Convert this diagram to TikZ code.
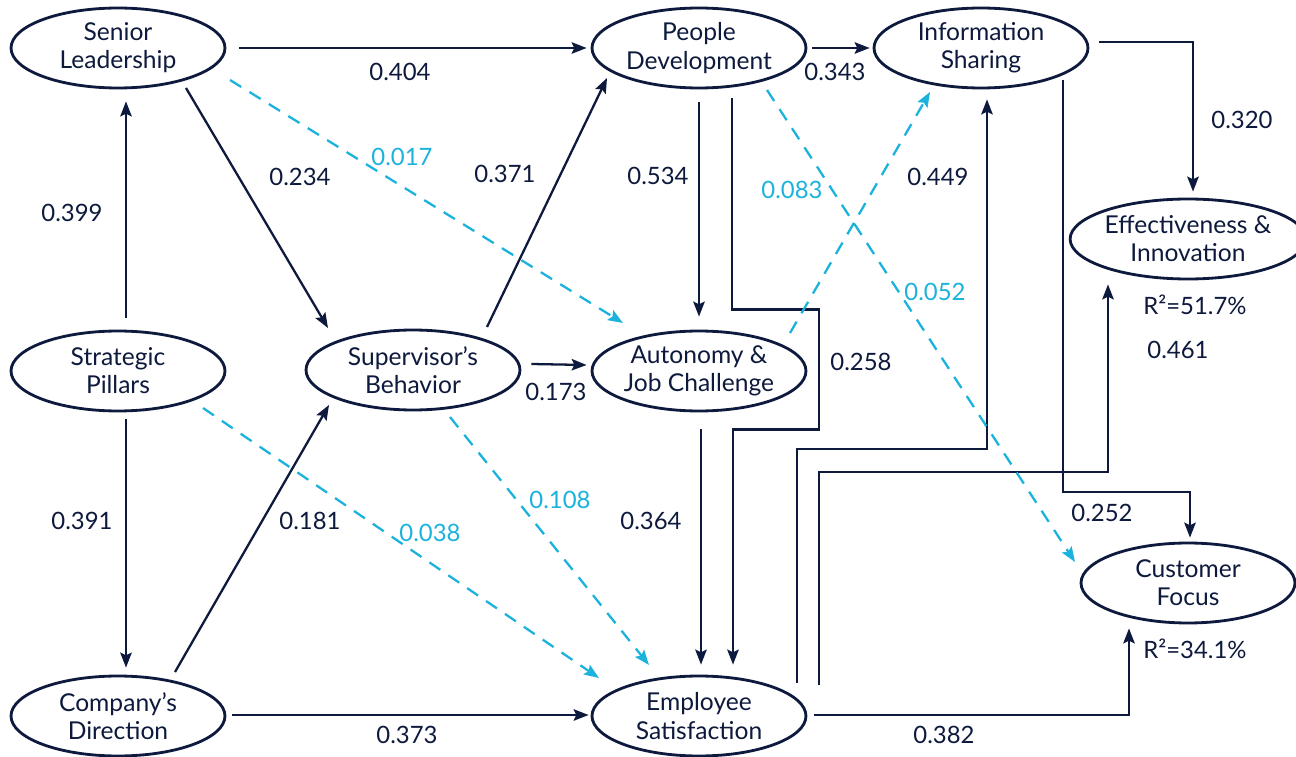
\documentclass[tikz,border=0pt]{standalone}
\usepackage{fontspec}
\setmainfont{Lato}
\usetikzlibrary{arrows.meta,calc,shapes.geometric}
\definecolor{navy}{HTML}{0E1A3D}
\definecolor{cyanl}{HTML}{1BB3DC}
\tikzset{
  construct/.style={ellipse,draw=navy,line width=1.6pt,minimum width=4.28cm,minimum height=1.6cm,inner sep=0pt,align=center,text=navy,font=\fontsize{14}{16}\selectfont},
  solidpath/.style={draw=navy,line width=1.3pt,-{Stealth[length=8.5pt,width=6.5pt,inset=1.5pt]}},
  weakpath/.style={draw=cyanl,line width=1.3pt,dash pattern=on 7.5pt off 5.5pt,-{Stealth[length=8.5pt,width=6.5pt,inset=1.5pt]}},
  coef/.style={text=navy,font=\fontsize{13.6}{16}\selectfont,inner sep=0pt},
  coefw/.style={text=cyanl,font=\fontsize{13.6}{16}\selectfont,inner sep=0pt}
}
\begin{document}
\begin{tikzpicture}[x=0.02cm,y=-0.02cm]
\useasboundingbox[fill=white] (0,0) rectangle (1296,757);
% constructs
\node[construct] (sl) at (118,48) {Senior\\Leadership};
\node[construct] (pd) at (699,48) {People\\Development};
\node[construct] (is) at (981,48) {Information\\Sharing};
\node[construct] (ei) at (1188,239) {Effectiveness \&\\Innovation};
\node[construct] (sp) at (118,371) {Strategic\\Pillars};
\node[construct] (sb) at (413,370) {Supervisor’s\\Behavior};
\node[construct] (aj) at (699,371) {Autonomy \&\\Job Challenge};
\node[construct] (cd) at (118,716) {Company’s\\Direction};
\node[construct] (es) at (699,716) {Employee\\Satisfaction};
\node[construct] (cf) at (1188,583) {Customer\\Focus};
% solid paths
\draw[solidpath] ($(sl.east)+(13,0)$) -- ($(pd.west)+(-4,0)$);
\draw[solidpath] ($(pd.east)+(5,0)$) -- ($(is.west)+(-3,0)$);
\draw[solidpath] ($(is.east)+(10,-6)$) -| ($(ei.north)+(5,-6)$);
\draw[solidpath] ($(sp.north)+(8,-12)$) -- ($(sl.south)+(8,12)$);
\draw[solidpath] ($(sp.south)+(8,7)$) -- ($(cd.north)+(8,-7)$);
\draw[solidpath] ($(sl.center)+(68,40)$) -- ($(sb.center)+(-85,-42)$);
\draw[solidpath] ($(sb.center)+(74,-43)$) -- ($(pd.center)+(-92,30)$);
\draw[solidpath] ($(sb.east)+(10,-6)$) -- ($(aj.west)+(-4,-6)$);
\draw[solidpath] ($(cd.center)+(57,-44)$) -- ($(sb.center)+(-84,35)$);
\draw[solidpath] ($(cd.east)+(6,-1)$) -- ($(es.west)+(-2,-1)$);
\draw[solidpath] ($(pd.south)+(0,13)$) -- ($(aj.north)+(0,-13)$);
\draw[solidpath] ($(pd.south)+(33,9)$) -- ++(0,211) -- ++(87,0) -- ++(0,120) -- ++(-86,0) -- ($(es.north)+(34,-10)$);
\draw[solidpath] ($(aj.south)+(2,17)$) -- ($(es.north)+(2,-10)$);
\draw[solidpath] ($(es.center)+(98,-33)$) -- ++(0,-234) -| ($(is.south)+(6,10)$);
\draw[solidpath] ($(es.center)+(120,-31)$) -- ++(0,-213) -| ($(ei.south)+(-80,4)$);
\draw[solidpath] ($(is.center)+(82,32)$) -- ++(0,412) -| ($(cf.north)+(2,-4)$);
\draw[solidpath] ($(es.east)+(7,-1)$) -| ($(cf.south)+(-59,4)$);
% weak (dashed) paths
\draw[weakpath] ($(sl.center)+(112,32)$) -- ($(aj.center)+(-76,-48)$);
\draw[weakpath] ($(sp.center)+(85,37)$) -- ($(es.center)+(-100,-38)$);
\draw[weakpath] ($(sb.center)+(37,47)$) -- ($(es.center)+(-50,-51)$);
\draw[weakpath] ($(aj.center)+(91,-38)$) -- ($(is.center)+(-51,44)$);
\draw[weakpath] ($(pd.center)+(68,42)$) -- ($(cf.center)+(-113,-21)$);
% coefficients
\node[coef] (l404) at (400,72) {0.404};
\node[coef] (l343) at (835,72) {0.343};
\node[coef] (l320) at (1242,120) {0.320};
\node[coef] (l399) at (72,213) {0.399};
\node[coef] (l391) at (82,521) {0.391};
\node[coef] (l234) at (300,177) {0.234};
\node[coefw] (l017) at (402,157) {0.017};
\node[coef] (l371) at (505,174) {0.371};
\node[coef] (l534) at (658,176) {0.534};
\node[coefw] (l083) at (792,190) {0.083};
\node[coef] (l449) at (938,177) {0.449};
\node[coefw] (l052) at (935,292) {0.052};
\node[coef] (l258) at (861,362) {0.258};
\node[coef] (l173) at (556,392) {0.173};
\node[coef] (l461) at (1178,350) {0.461};
\node[coef] (l181) at (310,521) {0.181};
\node[coefw] (l038) at (430,533) {0.038};
\node[coefw] (l108) at (560,500) {0.108};
\node[coef] (l364) at (651,521) {0.364};
\node[coef] (l252) at (1102,513) {0.252};
\node[coef] (l373) at (407,735) {0.373};
\node[coef] (l382) at (944,735) {0.382};
\node[coef] (r2ei) at (1195,305) {R²=51.7\%};
\node[coef] (r2cf) at (1195,649) {R²=34.1\%};
\end{tikzpicture}
\end{document}
